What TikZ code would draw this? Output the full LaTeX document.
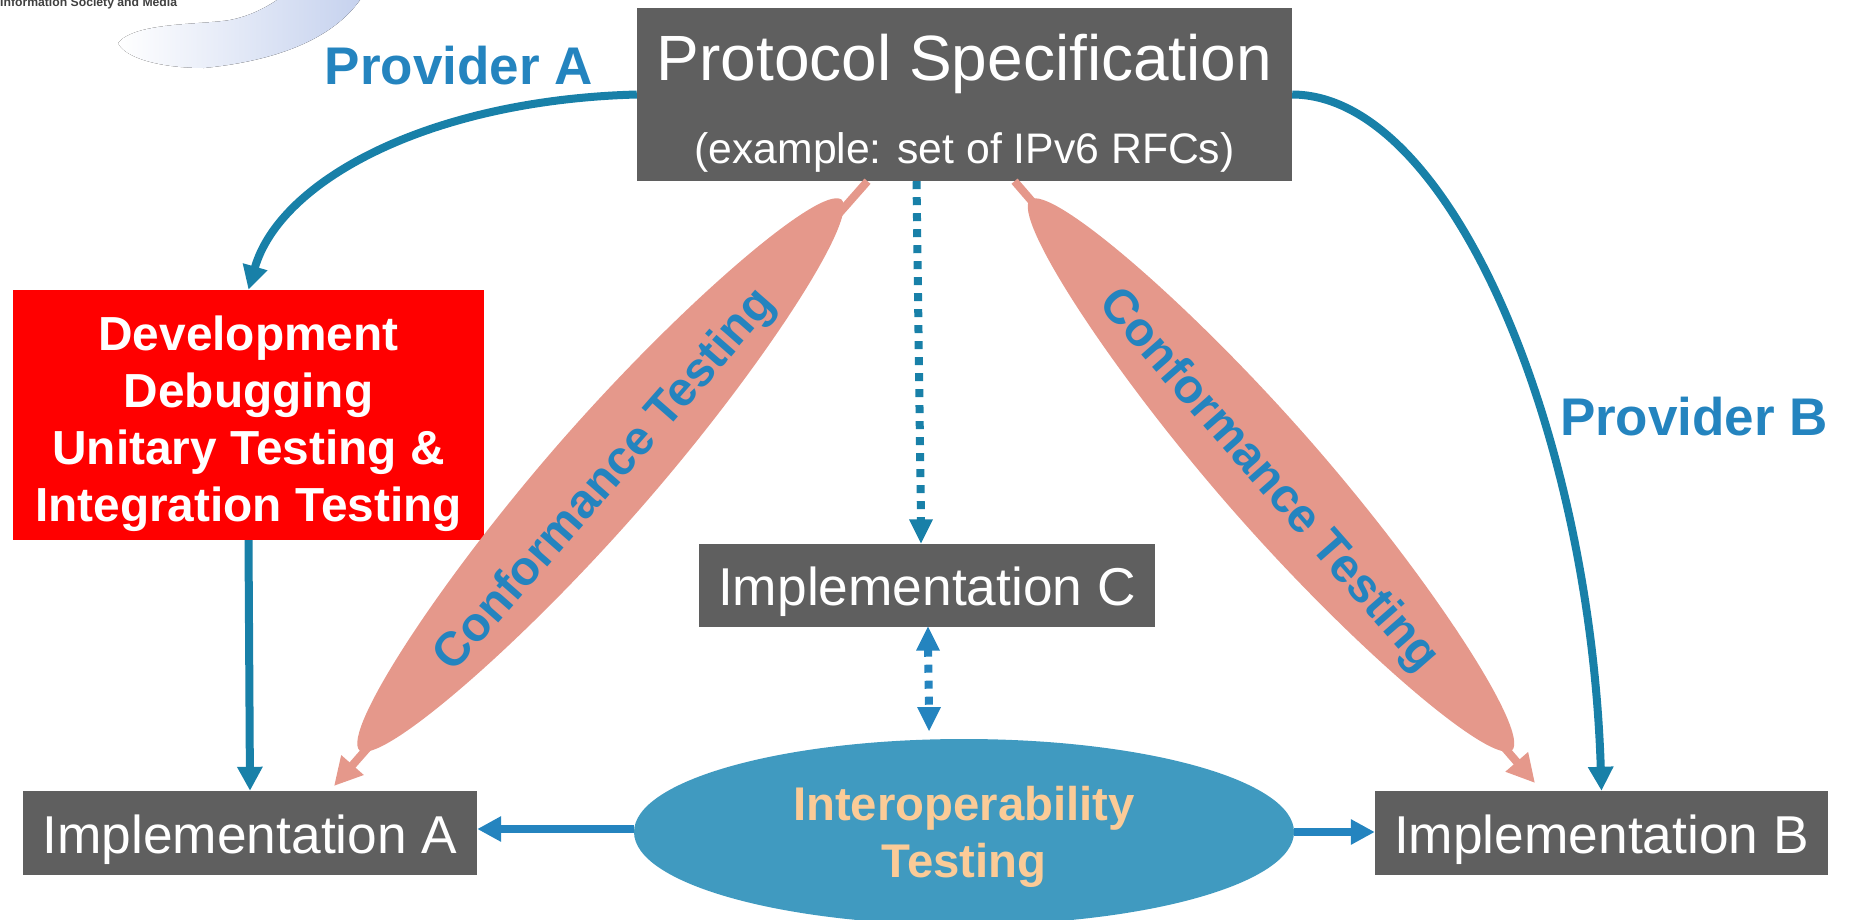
\documentclass[tikz,border=0pt]{standalone}
\usepackage{fontspec}
\setmainfont{Liberation Sans}
\usetikzlibrary{arrows.meta,shapes.geometric,calc}
\definecolor{boxgray}{HTML}{5F5F5F}
\definecolor{salmon}{HTML}{E5988B}
\definecolor{interopblue}{HTML}{409AC0}
\definecolor{teal}{HTML}{1880A8}
\definecolor{lblblue}{HTML}{2484BF}
\definecolor{peach}{HTML}{FBCB97}
\definecolor{swoosh}{HTML}{C6D2EE}
\newcommand{\fsz}[1]{\fontsize{#1pt}{#1pt}\selectfont}
\newcommand{\leafshape}{(-366,0) .. controls (-364,26) and (-183,52) .. (0,52) .. controls (183,52) and (364,26) .. (366,0) .. controls (364,-26) and (183,-52) .. (0,-52) .. controls (-183,-52) and (-364,-26) .. (-366,0) -- cycle}
\tikzset{
  x=1pt,y=-1pt,
  implbox/.style={fill=boxgray,text=white,inner sep=0,align=center,text height=40pt,text depth=0pt,font=\fsz{53.3}},
  leaftext/.style={inner sep=0,text=lblblue,font=\bfseries\fsz{48}},
  providerlabel/.style={text=lblblue,inner sep=0,font=\bfseries\fsz{53}},
  tealarrow/.style={draw=teal,line width=8pt,-{Triangle[width=24pt,length=24pt]}},
  bluearrow/.style={draw=lblblue,line width=8pt,-{Triangle[width=24pt,length=24pt]}},
  salmonarrow/.style={draw=salmon,line width=8pt,-{Triangle[width=28pt,length=28pt]}},
  dotted teal/.style={draw=teal,line width=8pt,dash pattern=on 8pt off 8pt},
  dotted blue/.style={draw=lblblue,line width=8pt,dash pattern=on 8pt off 8pt},
}
\begin{document}
\begin{tikzpicture}
\useasboundingbox (0,0) rectangle (1849,919);
% logo remnant
\fill[left color=white,right color=swoosh] (118,43) .. controls (135,22) and (200,25) .. (230,20) .. controls (250,16) and (265,8) .. (277,0) -- (360,0) .. controls (335,35) and (285,60) .. (204,68) .. controls (160,68) and (125,58) .. (118,43) -- cycle;
\node[anchor=west,inner sep=0,text=black!75,font=\bfseries\fsz{12.2}] (logotext) at (0,3) {Information Society and Media};

% boxes
\node[fill=boxgray,minimum width=655pt,minimum height=173pt,inner sep=0] (spec) at (964.5,94.5) {};
\node[text=white,font=\fsz{64},inner sep=0] (spectitle) at (964.5,64) {Protocol Specification};
\node[text=white,font=\fsz{42.7},inner sep=0] (specsub) at (964.5,152) {(example: set of IPv6 RFCs)};

\node[fill=red,minimum width=471pt,minimum height=250pt,inner sep=0] (dev) at (248.5,415) {};
\node[text=white,inner sep=0,align=center,font=\bfseries\fontsize{47.8pt}{57pt}\selectfont] (devtext) at (248.5,424)
  {Development\\Debugging\\Unitary Testing \&\\Integration Testing};

\node[implbox,minimum width=454pt,minimum height=84pt] (implA) at (250,833) {Implementation A};
\node[implbox,minimum width=453pt,minimum height=84pt] (implB) at (1601.5,833) {Implementation B};
\node[implbox,minimum width=456pt,minimum height=83pt] (implC) at (927,585) {Implementation C};

% conformance arrows, under the leaves
\coordinate (lA) at (334,786);
\coordinate (lB) at (1535,783);
\draw[salmonarrow] ([xshift=-97pt]spec.south) -- (lA);
\draw[salmonarrow] ([xshift=50pt]spec.south) -- (lB);
\begin{scope}[shift={(600.5,475)},rotate=48.8]
  \fill[salmon] \leafshape;
\end{scope}
\begin{scope}[shift={(1271,475)},rotate=-48.8]
  \fill[salmon] \leafshape;
\end{scope}
\node[leaftext,rotate=48.8] (confA) at (606,481) {Conformance Testing};
\node[leaftext,rotate=-48.8] (confB) at (1268,481) {Conformance Testing};

% interoperability
\node[ellipse,fill=interopblue,minimum width=660pt,minimum height=186pt,inner sep=0] (interop) at (964,832) {};
\node[text=peach,inner sep=0,align=center,font=\bfseries\fontsize{47.3pt}{57pt}\selectfont] (interoptext) at (964,837)
  {Interoperability\\Testing};

% provider arrows
\draw[tealarrow] (spec.west) .. controls (430,100) and (280,180) .. (dev.north);
\draw[tealarrow] (spec.east) .. controls (1450,95) and (1590,430) .. (implB.north);
\draw[tealarrow] (dev.south) -- (implA.north);
\node[providerlabel] (provA) at (459,66) {Provider A};
\node[providerlabel] (provB) at (1694,417) {Provider B};

% dotted
\coordinate (specdot) at ([xshift=-48pt]spec.south);
\coordinate (cdot) at ([xshift=-6pt]implC.north);
\coordinate (cbot) at ([xshift=1pt]implC.south);
\coordinate (itop) at (929,731);
\draw[dotted teal] (specdot) -- ($(cdot)+(0,-22)$);
\fill[teal] (cdot) -- ++(-12,-24) -- ++(24,0) -- cycle;
\draw[dotted blue] ($(cbot)+(0,22)$) -- ($(itop)+(0,-22)$);
\fill[lblblue] (cbot) -- ++(-12,24) -- ++(24,0) -- cycle;
\fill[lblblue] (itop) -- ++(-12,-24) -- ++(24,0) -- cycle;

% interop arrows
\draw[bluearrow] ([yshift=3pt]interop.west) -- ([yshift=4pt]implA.east);
\draw[bluearrow] (interop.east) -- ([yshift=1pt]implB.west);
\end{tikzpicture}
\end{document}
